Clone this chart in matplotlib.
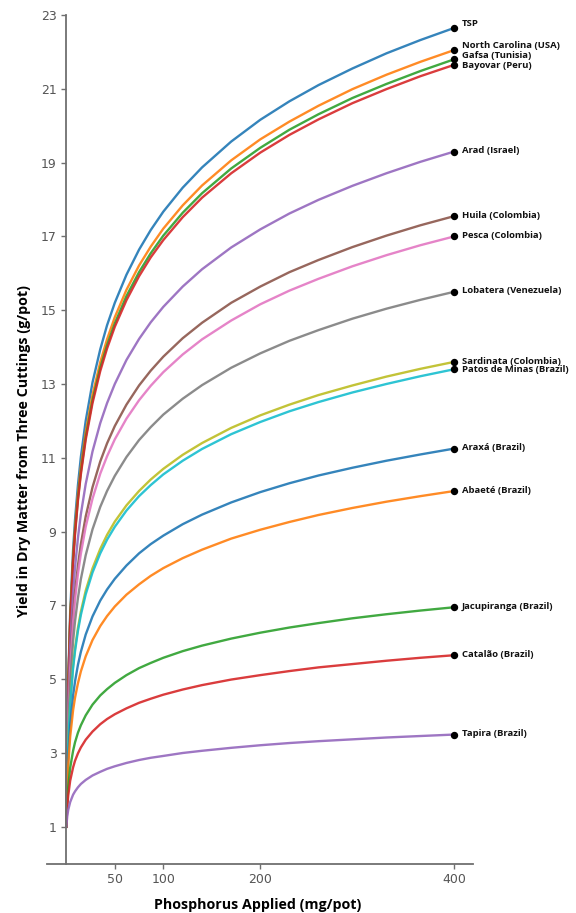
import matplotlib
matplotlib.use("Agg")
import matplotlib.pyplot as plt

# phosphorus applied (mg/pot) at which the curves were read
phosphorus = [0, 1, 2, 4, 7, 9, 12, 15, 20, 27, 35, 42, 50, 62, 75, 87, 100,
              120, 140, 170, 200, 230, 260, 295, 330, 365, 400]

# yield readings (g/pot) for each phosphate source
tsp = [1.00, 3.50, 4.97, 6.81, 8.51, 9.32, 10.26, 11.02, 12.00, 13.04, 13.94, 14.59, 15.20, 15.96,
       16.64, 17.17, 17.67, 18.32, 18.87, 19.57, 20.16, 20.66, 21.10, 21.55, 21.96, 22.32, 22.65]
north_carolina = [1.00, 3.43, 4.86, 6.65, 8.30, 9.09, 10.01, 10.74, 11.69, 12.70, 13.59, 14.21, 14.81, 15.55,
                  16.21, 16.72, 17.21, 17.84, 18.38, 19.06, 19.63, 20.11, 20.54, 20.99, 21.38, 21.73, 22.05]
gafsa = [1.00, 3.40, 4.81, 6.58, 8.22, 8.99, 9.90, 10.62, 11.56, 12.56, 13.44, 14.05, 14.64, 15.38,
         16.03, 16.54, 17.02, 17.64, 18.17, 18.84, 19.40, 19.89, 20.31, 20.75, 21.13, 21.48, 21.80]
bayovar = [1.00, 3.39, 4.79, 6.54, 8.16, 8.93, 9.84, 10.55, 11.49, 12.48, 13.35, 13.96, 14.55, 15.27,
           15.92, 16.43, 16.90, 17.52, 18.05, 18.71, 19.27, 19.75, 20.17, 20.61, 20.99, 21.34, 21.65]
arad = [1.00, 3.12, 4.35, 5.91, 7.35, 8.03, 8.83, 9.47, 10.29, 11.17, 11.94, 12.48, 13.00, 13.65,
        14.22, 14.67, 15.09, 15.64, 16.11, 16.70, 17.19, 17.62, 17.99, 18.37, 18.71, 19.02, 19.30]
huila = [1.00, 2.91, 4.03, 5.44, 6.74, 7.36, 8.08, 8.66, 9.41, 10.20, 10.90, 11.39, 11.86, 12.44,
         12.96, 13.36, 13.74, 14.24, 14.66, 15.20, 15.64, 16.03, 16.36, 16.71, 17.02, 17.30, 17.55]
pesca = [1.00, 2.85, 3.93, 5.30, 6.55, 7.15, 7.85, 8.40, 9.13, 9.89, 10.57, 11.04, 11.50, 12.06,
         12.56, 12.95, 13.32, 13.80, 14.21, 14.72, 15.16, 15.53, 15.85, 16.19, 16.49, 16.76, 17.00]
lobatera = [1.00, 2.68, 3.66, 4.89, 6.03, 6.57, 7.20, 7.71, 8.36, 9.06, 9.67, 10.10, 10.51, 11.02,
            11.48, 11.83, 12.17, 12.60, 12.97, 13.44, 13.83, 14.17, 14.46, 14.77, 15.04, 15.28, 15.50]
sardinata = [1.00, 2.46, 3.31, 4.38, 5.37, 5.84, 6.39, 6.83, 7.40, 8.00, 8.53, 8.91, 9.27, 9.71,
             10.10, 10.41, 10.70, 11.08, 11.40, 11.81, 12.15, 12.44, 12.70, 12.96, 13.20, 13.41, 13.60]
patos_de_minas = [1.00, 2.43, 3.27, 4.33, 5.30, 5.76, 6.31, 6.74, 7.30, 7.89, 8.41, 8.78, 9.13, 9.57,
                  9.96, 10.26, 10.55, 10.92, 11.24, 11.64, 11.97, 12.26, 12.51, 12.77, 13.00, 13.21, 13.40]
araxa = [1.00, 2.18, 2.88, 3.75, 4.56, 4.94, 5.39, 5.74, 6.21, 6.70, 7.13, 7.43, 7.72, 8.08,
         8.41, 8.66, 8.89, 9.20, 9.46, 9.79, 10.07, 10.31, 10.52, 10.73, 10.92, 11.09, 11.25]
abaete = [1.00, 2.05, 2.67, 3.44, 4.16, 4.50, 4.89, 5.21, 5.62, 6.06, 6.44, 6.71, 6.97, 7.29,
          7.57, 7.80, 8.01, 8.28, 8.51, 8.81, 9.05, 9.26, 9.45, 9.64, 9.81, 9.96, 10.10]
jacupiranga = [1.00, 1.69, 2.09, 2.60, 3.06, 3.29, 3.55, 3.75, 4.02, 4.31, 4.56, 4.73, 4.90, 5.11,
               5.30, 5.44, 5.58, 5.76, 5.91, 6.10, 6.26, 6.40, 6.52, 6.65, 6.76, 6.86, 6.95]
catalao = [1.00, 1.54, 1.85, 2.25, 2.61, 2.79, 2.99, 3.15, 3.36, 3.58, 3.78, 3.92, 4.05, 4.21,
           4.36, 4.47, 4.58, 4.72, 4.84, 4.99, 5.11, 5.22, 5.32, 5.41, 5.50, 5.58, 5.65]
tapira = [1.00, 1.29, 1.46, 1.67, 1.87, 1.96, 2.07, 2.16, 2.27, 2.39, 2.49, 2.57, 2.64, 2.73,
          2.81, 2.87, 2.92, 3.00, 3.06, 3.14, 3.21, 3.27, 3.32, 3.37, 3.42, 3.46, 3.50]

sources = ["TSP", "North Carolina (USA)", "Gafsa (Tunisia)", "Bayovar (Peru)", "Arad (Israel)",
           "Huila (Colombia)", "Pesca (Colombia)", "Lobatera (Venezuela)", "Sardinata (Colombia)",
           "Patos de Minas (Brazil)", "Araxá (Brazil)", "Abaeté (Brazil)", "Jacupiranga (Brazil)",
           "Catalão (Brazil)", "Tapira (Brazil)"]
series = [tsp, north_carolina, gafsa, bayovar, arad, huila, pesca, lobatera, sardinata,
          patos_de_minas, araxa, abaete, jacupiranga, catalao, tapira]

x_ticks = [50, 100, 200, 400]
y_ticks = [1, 3, 5, 7, 9, 11, 13, 15, 17, 19, 21, 23]

# small vertical nudges (points) so the crowded end labels don't collide
label_nudge = {"TSP": 2.5, "North Carolina (USA)": 3.0, "Gafsa (Tunisia)": 2.0,
               "Bayovar (Peru)": -1.3, "Patos de Minas (Brazil)": -1.1}

colors = plt.rcParams['axes.prop_cycle'].by_key()['color']
label_font = "Open Sans"

fig = plt.figure(figsize=(5.76, 9.13), dpi=100)
ax = fig.add_axes([0.0816, 0.054, 0.7396, 0.9296])

for i, (name, ys) in enumerate(zip(sources, series)):
    ax.plot(phosphorus, ys, color=colors[i % len(colors)], lw=1.7, alpha=0.9, solid_joinstyle='round')
    ax.plot(phosphorus[-1], ys[-1], 'o', color='black', ms=4.3, zorder=5)
    ax.annotate(name, (phosphorus[-1], ys[-1]), xytext=(5.5, 0.6 + label_nudge.get(name, 0)),
                textcoords='offset points', va='center', ha='left',
                fontsize=6.8, fontweight='bold', family=label_font, color='#111111')

ax.set_xlim(-19.9, 419.3)
ax.set_ylim(0, 23)
ax.set_xticks(x_ticks)
ax.set_yticks(y_ticks)

ax.spines['top'].set_visible(False)
ax.spines['right'].set_visible(False)
ax.spines['left'].set_position(('data', 0))
for side in ['left', 'bottom']:
    ax.spines[side].set_color('#6f6f6f')
    ax.spines[side].set_linewidth(1.3)
ax.tick_params(colors='#6f6f6f', labelcolor='#555555', labelsize=9, length=3.5, width=1)

ax.set_xlabel("Phosphorus Applied (mg/pot)", fontsize=10.3, fontweight='bold', family=label_font)
ax.set_ylabel("Yield in Dry Matter from Three Cuttings (g/pot)", fontsize=10.3, fontweight='bold',
              family=label_font)
ax.xaxis.set_label_coords(0.494, -0.0487)
ax.xaxis.label.set_va('center')
ax.yaxis.set_label_coords(-0.053, 0.486)
ax.yaxis.label.set_va('center')

fig.savefig("out.png", dpi=100)
